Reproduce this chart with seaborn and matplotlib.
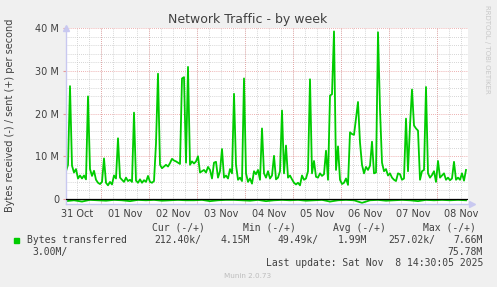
import matplotlib
matplotlib.use("Agg")
import matplotlib.pyplot as plt
import matplotlib.dates as mdates
import numpy as np
import pandas as pd
import seaborn as sns

# ---------------- data (values in M bytes/s) ----------------
start_time = "2025-10-31 06:30"
sent_M = [6.5, 8.0, 26.4, 7.8, 6.2, 7.0, 4.8, 5.5, 4.8, 5.5,
          4.6, 24.0, 7.0, 5.4, 6.6, 4.5, 3.8, 3.5, 4.0, 9.5,
          3.8, 3.2, 4.0, 3.4, 5.5, 4.8, 14.2, 5.0, 4.5, 4.0,
          5.0, 4.2, 4.5, 4.0, 20.2, 4.3, 3.8, 4.6, 3.8, 4.4,
          4.0, 5.4, 4.0, 3.8, 4.2, 13.0, 29.3, 8.0, 7.2, 7.6,
          8.0, 7.6, 8.4, 9.4, 9.0, 8.8, 8.5, 8.2, 28.2, 28.5,
          8.5, 30.9, 8.0, 8.8, 8.3, 8.8, 10.0, 6.2, 6.5, 6.8,
          6.2, 7.5, 6.8, 4.8, 8.5, 8.7, 5.0, 6.5, 11.7, 5.0,
          5.5, 4.8, 7.0, 6.0, 24.6, 8.0, 4.5, 5.0, 4.2, 28.2,
          6.0, 4.0, 4.8, 3.6, 6.5, 5.8, 6.8, 4.5, 16.5, 6.0,
          5.0, 6.5, 4.8, 5.5, 10.1, 4.6, 5.0, 6.5, 20.7, 6.0,
          12.5, 5.0, 5.5, 4.6, 3.8, 3.4, 3.8, 3.2, 5.5, 4.5,
          4.8, 6.5, 28.0, 6.0, 8.9, 5.2, 5.0, 6.0, 5.4, 5.8,
          11.3, 4.5, 24.2, 24.5, 39.2, 6.8, 12.3, 4.5, 3.5, 3.8,
          4.8, 3.3, 15.6, 15.2, 15.0, 18.8, 22.7, 13.2, 8.0, 6.0,
          7.5, 6.8, 7.8, 13.4, 6.0, 6.2, 39.0, 21.0, 8.5, 6.5,
          7.0, 5.5, 6.0, 5.0, 4.5, 4.2, 6.0, 5.8, 4.5, 4.8,
          18.8, 6.5, 17.2, 25.6, 17.2, 16.5, 16.0, 4.5, 6.5, 6.8,
          26.2, 6.0, 5.0, 5.6, 6.5, 4.0, 8.9, 5.0, 5.5, 6.0,
          4.5, 5.0, 4.4, 4.8, 8.7, 4.5, 5.0, 4.5, 6.0, 4.3,
          6.8]
received_M = [0.5, 0.3, 0.6, 0.2, 0.3, 0.4, 0.2, 0.3, 0.5, 0.2,
              0.3, 0.2, 0.4, 0.3, 0.2, 0.3, 0.3, 0.2, 0.5, 0.3,
              0.2, 0.2, 0.3, 0.4, 0.2, 0.5, 0.3, 0.2, 0.3, 0.2,
              0.4, 0.3, 0.2, 0.6, 0.3, 0.2, 0.3, 0.9, 0.3, 0.2,
              0.4, 0.3, 0.2, 0.3, 0.5, 0.2, 0.3, 0.2, 0.3, 0.2,
              0.3]
y_ticks = [0, 10, 20, 30, 40]
y_ticklabels = ["0", "10 M", "20 M", "30 M", "40 M"]

title = "Network Traffic - by week"
ylabel = "Bytes received (-) / sent (+) per second"
legend_name = "Bytes transferred"
headers = ["Cur (-/+)", "Min (-/+)", "Avg (-/+)", "Max (-/+)"]
cur_vals = ["212.40k/", "4.15M"]
min_vals = ["49.49k/", "1.99M"]
avg_vals = ["257.02k/", "7.66M"]
max_vals = ["3.00M/", "75.78M"]
last_update = "Last update: Sat Nov  8 14:30:05 2025"

# ---------------- frames ----------------
sent_df = pd.DataFrame({"time": pd.date_range(start_time, periods=len(sent_M), freq="h"),
                        "value": sent_M})
recv_df = pd.DataFrame({"time": pd.date_range(start_time, periods=len(received_M), freq="4h"),
                        "value": [-v for v in received_M]})

# ---------------- style ----------------
W, H = 497, 287
BG = "#F0F0F0"
GREEN = "#00CC00"
MINOR = "#C8C8C8"
MAJOR = "#E89898"
AXIS = "#C8C8F0"
TXT = "#404040"

fig = plt.figure(figsize=(W / 100, H / 100), dpi=100, facecolor=BG)
plt.rcParams["font.family"] = ["DejaVu Sans"]

L, R, T, B = 66, 468, 28, 203.5
ax = fig.add_axes([L / W, 1 - B / H, (R - L) / W, (B - T) / H])
ax.set_facecolor("white")

t0 = sent_df["time"].iloc[0]
t1 = sent_df["time"].iloc[-1]
ax.set_xlim(t0, t1 + pd.Timedelta(hours=1))
ax.set_ylim(-1.05, 40)

# grid
ax.xaxis.set_minor_locator(mdates.HourLocator(byhour=[0, 6, 12, 18]))
ax.xaxis.set_major_locator(mdates.HourLocator(byhour=[12]))
ax.xaxis.set_major_formatter(mdates.DateFormatter("%d %b"))
ax.set_yticks(y_ticks)
ax.set_yticklabels(y_ticklabels)
ax.set_yticks(np.arange(0, 41, 2), minor=True)
ax.grid(which="minor", color=MINOR, linestyle=(0, (1, 1.5)), linewidth=0.6)
ax.grid(which="major", axis="x", color=MINOR, linestyle=(0, (1, 1.5)), linewidth=0.6)
ax.grid(which="major", axis="y", color=MAJOR, linestyle=(0, (1, 1.5)), linewidth=0.6)
for d in pd.date_range("2025-11-01", "2025-11-08", freq="D"):
    ax.axvline(d, color=MAJOR, linestyle=(0, (1, 1.5)), linewidth=0.6, zorder=0.6)
ax.set_axisbelow(True)

# data
sns.lineplot(data=sent_df, x="time", y="value", color=GREEN, linewidth=1.3, ax=ax, zorder=2)
sns.lineplot(data=recv_df, x="time", y="value", color=GREEN, linewidth=1.3, ax=ax, zorder=2)
ax.axhline(0, color="black", linewidth=0.9, zorder=3)

# axes cosmetics
for s in ["top", "right"]:
    ax.spines[s].set_visible(False)
for s in ["left", "bottom"]:
    ax.spines[s].set_color(AXIS)
    ax.spines[s].set_linewidth(1.0)
ax.plot([0], [1.0], marker="^", color=AXIS, markersize=4, transform=ax.transAxes, clip_on=False)
ax.plot([1.01], [0], marker=">", color=AXIS, markersize=4, transform=ax.transAxes, clip_on=False)

ax.set_xlabel("")
ax.set_ylabel("")
ax.tick_params(axis="x", which="major", length=0, pad=4, labelsize=7, labelcolor=TXT)
ax.tick_params(axis="x", which="minor", length=0)
ax.tick_params(axis="y", which="major", length=2, color=MAJOR, pad=3, labelsize=7, labelcolor=TXT)
ax.tick_params(axis="y", which="minor", length=0)

# texts
fig.text(248 / W, 1 - 19 / H, title, ha="center", va="center", fontsize=9, color=TXT)
fig.text(10 / W, 1 - 115 / H, ylabel, ha="center", va="center", rotation=90, fontsize=7, color=TXT)
fig.text(487 / W, 1 - 5 / H, "RRDTOOL / TOBI OETIKER", ha="center", va="top", rotation=270,
         fontsize=5, color="#C8C8C8")

mono = {"family": "DejaVu Sans Mono", "fontsize": 7, "color": TXT}
y_head, y_r1, y_r2, y_lu = 228, 240, 252, 263.5
for x, h in zip([152, 243, 333, 423], headers):
    fig.text(x / W, 1 - y_head / H, h, ha="left", va="center", **mono)
fig.patches.append(plt.Rectangle((14 / W, 1 - 243 / H), 5 / W, 5 / H, color=GREEN,
                                 transform=fig.transFigure, figure=fig))
fig.text(27 / W, 1 - y_r1 / H, legend_name, ha="left", va="center", **mono)
fig.text(154 / W, 1 - y_r1 / H, cur_vals[0], ha="left", va="center", **mono)
fig.text(250 / W, 1 - y_r1 / H, cur_vals[1], ha="right", va="center", **mono)
fig.text(277 / W, 1 - y_r1 / H, min_vals[0], ha="left", va="center", **mono)
fig.text(367 / W, 1 - y_r1 / H, min_vals[1], ha="right", va="center", **mono)
fig.text(388 / W, 1 - y_r1 / H, avg_vals[0], ha="left", va="center", **mono)
fig.text(483 / W, 1 - y_r1 / H, avg_vals[1], ha="right", va="center", **mono)
fig.text(32 / W, 1 - y_r2 / H, max_vals[0], ha="left", va="center", **mono)
fig.text(483 / W, 1 - y_r2 / H, max_vals[1], ha="right", va="center", **mono)
fig.text(483 / W, 1 - y_lu / H, last_update, ha="right", va="center", **mono)
fig.text(248 / W, 1 - 276 / H, "Munin 2.0.73", ha="center", va="center", fontsize=5.2, color="#BDBDBD")

fig.savefig("out.png", dpi=100, facecolor=BG)
